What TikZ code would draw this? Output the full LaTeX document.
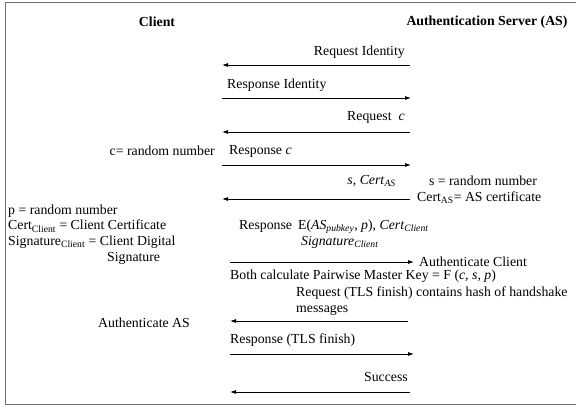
\documentclass[tikz,border=0pt]{standalone}
\usepackage{fontspec}
\setmainfont{Liberation Serif}
\usetikzlibrary{arrows.meta}

\begin{document}
\begin{tikzpicture}[x=1pt,y=-1pt,
    every node/.style={inner sep=0pt,font=\fontsize{13.8}{15.7}\selectfont},
    head/.style={font=\fontsize{13.8}{15.7}\selectfont\bfseries},
    msg/.style={-{Latex[length=6pt,width=4pt]},line width=0.8pt}]
    \useasboundingbox (0,0) rectangle (576,407);
    % frame
    \draw[line width=1.3pt,black!55] (5.5,2.5) rectangle (590,404.5);
    % headers
    \node[head] (client) at (157,22) {Client};
    \node[head] (server) at (487,22) {Authentication Server (AS)};
    % ends of the messages
    \coordinate (c1) at (222,65);  \coordinate (s1) at (410,65);
    \coordinate (c2) at (222,98);  \coordinate (s2) at (411,98);
    \coordinate (c3) at (222,132); \coordinate (s3) at (410,132);
    \coordinate (c4) at (222,165); \coordinate (s4) at (411,165);
    \coordinate (c5) at (222,199); \coordinate (s5) at (410,199);
    \coordinate (c6) at (230,262); \coordinate (s6) at (414,262);
    \coordinate (c7) at (230,321); \coordinate (s7) at (408,321);
    \coordinate (c8) at (230,354); \coordinate (s8) at (414,354);
    \coordinate (c9) at (230,392); \coordinate (s9) at (410,392);
    \draw[msg] (s1) -- (c1);
    \draw[msg] (c2) -- (s2);
    \draw[msg] (s3) -- (c3);
    \draw[msg] (c4) -- (s4);
    \draw[msg] (s5) -- (c5);
    \draw[msg] (c6) -- (s6);
    \draw[msg] (s7) -- (c7);
    \draw[msg] (c8) -- (s8);
    \draw[msg] (s9) -- (c9);
    % labels
    \node[anchor=east] (reqid) at (405,52) {Request Identity};
    \node[anchor=west] (respid) at (227,85) {Response Identity};
    \node[anchor=east] (reqc) at (405,117) {Request\hspace{7pt}\textit{c}};
    \node[anchor=east] (crand) at (215,151) {c= random number};
    \node[anchor=west] (respc) at (229,151) {Response \textit{c}};
    \node[anchor=east] (scert) at (396,181) {\textit{s, Cert}\textsubscript{\textit{AS}}};
    \node (srand) at (483,181) {s = random number};
    \node[anchor=west] (certas) at (417,198) {Cert\textsubscript{AS}= AS certificate};
    \node[anchor=west,align=left] (clientvars) at (8,234.5) {p = random number\\
        Cert\textsubscript{Client} = Client Certificate\\
        Signature\textsubscript{Client} = Client Digital\\
        \hspace*{99pt}Signature};
    \node[anchor=west,align=left] (respe) at (239,234) {Response\hspace{6pt}E(\textit{AS}\textsubscript{\textit{pubkey}}, \textit{p}), \textit{Cert}\textsubscript{\textit{Client}}\\
        \hspace*{62pt}\textit{Signature}\textsubscript{\textit{Client}}};
    \node[anchor=west] (authc) at (419,262) {Authenticate Client};
    \node[anchor=west] (pmk) at (230,276) {Both calculate Pairwise Master Key = F (\textit{c, s, p})};
    \node[anchor=west,align=left] (tlsreq) at (296,301) {Request (TLS finish) contains hash of handshake\\ messages};
    \node (authas) at (144,323) {Authenticate AS};
    \node[anchor=west] (tlsresp) at (230,340) {Response (TLS finish)};
    \node[anchor=east] (succ) at (408,377) {Success};
\end{tikzpicture}
\end{document}
